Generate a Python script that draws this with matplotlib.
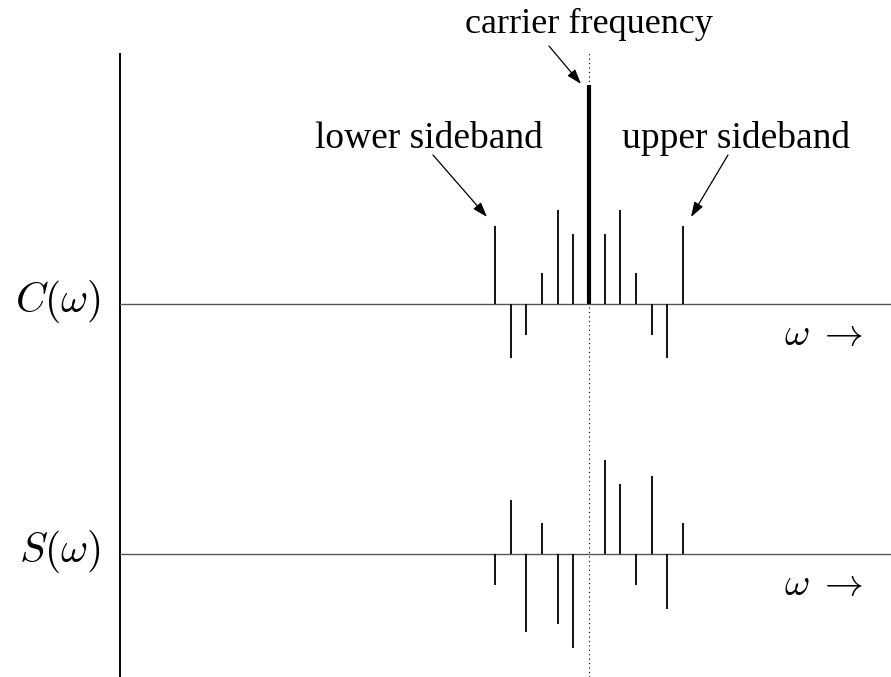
import matplotlib
matplotlib.use("Agg")
import matplotlib.pyplot as plt
import numpy as np

plt.rcParams["mathtext.fontset"] = "cm"

# Spectral line index relative to the carrier (n = -6 ... 6)
harmonics = np.arange(-6, 7)

# Cosine-component amplitudes C(omega)
cos_amp = [78, -54, -31, 31, 94, 70, 219, 70, 94, 31, -31, -54, 78]
# Sine-component amplitudes S(omega)
sin_amp = [-31, 54, -78, 31, -70, -94, 0, 94, 70, -31, 78, -55, 31]

row_labels = [r"$C(\omega)$", r"$S(\omega)$"]
annotations = ["lower sideband", "carrier frequency", "upper sideband"]

W, H = 891, 677
spacing = 15.65          # horizontal distance between neighbouring lines
carrier_px = 589.0
c_base = H - 303.5
s_base = H - 553.5

fig = plt.figure(figsize=(W / 100, H / 100), dpi=100)
ax = fig.add_axes([0, 0, 1, 1])
ax.set_xlim(-carrier_px / spacing, (W - carrier_px) / spacing)
ax.set_ylim(0, H)
ax.axis("off")

def px_x(px):
    return (px - carrier_px) / spacing

def px_y(py):
    return H - py

axis_x = px_x(119.5)
right_x = px_x(W)

# vertical axis
ax.plot([axis_x, axis_x], [0, px_y(53)], color="black", lw=1.4,
        solid_capstyle="butt")
# baselines
for base in (c_base, s_base):
    ax.plot([axis_x, right_x], [base, base], color="#555555", lw=1.0)
# carrier frequency reference (dotted)
ax.plot([0, 0], [0, px_y(53)], color="black", lw=0.8, ls=(0, (1, 3)))

# spectral lines
for n, a in zip(harmonics, cos_amp):
    lw = 3.0 if n == 0 else 1.3
    ax.vlines(n, c_base, c_base + a, color="black", lw=lw)
for n, a in zip(harmonics, sin_amp):
    if a != 0:
        ax.vlines(n, s_base, s_base + a, color="black", lw=1.3)

# row labels
ax.text(px_x(101), c_base + 2, row_labels[0], fontsize=30, ha="right",
        va="center")
ax.text(px_x(101), s_base + 2, row_labels[1], fontsize=30, ha="right",
        va="center")

# omega direction markers
for base in (c_base, s_base):
    ax.text(px_x(824), base - 30, r"$\omega\;\rightarrow$", fontsize=28,
            ha="center", va="center")

serif = ["Liberation Serif", "DejaVu Serif"]
arrow_kw = dict(arrowstyle="-|>,head_length=0.9,head_width=0.3",
                color="black", lw=0.9, shrinkA=0, shrinkB=0)

ax.text(px_x(429), px_y(148), annotations[0], family=serif, fontsize=27,
        ha="center", va="baseline")
ax.annotate("", xy=(px_x(487), px_y(217)), xytext=(px_x(433), px_y(155)),
            arrowprops=arrow_kw)

ax.text(px_x(589), px_y(33), annotations[1], family=serif, fontsize=26,
        ha="center", va="baseline")
ax.annotate("", xy=(px_x(581), px_y(84)), xytext=(px_x(549), px_y(46)),
            arrowprops=arrow_kw)

ax.text(px_x(736), px_y(148), annotations[2], family=serif, fontsize=27,
        ha="center", va="baseline")
ax.annotate("", xy=(px_x(691), px_y(217)), xytext=(px_x(728), px_y(155)),
            arrowprops=arrow_kw)

fig.savefig("out.png", dpi=100, facecolor="white")
